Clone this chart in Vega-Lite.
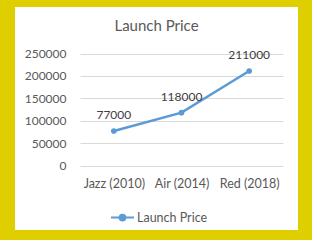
{
  "$schema": "https://vega.github.io/schema/vega-lite/v6.json",
  "width": 283,
  "height": 223,
  "autosize": {"type": "none"},
  "padding": {"left": 15, "top": 7, "right": 14, "bottom": 10},
  "background": "#E0CF00",
  "title": {
    "text": "Launch Price",
    "font": "Lato",
    "fontSize": 15,
    "fontWeight": "normal",
    "color": "#595959",
    "anchor": "middle",
    "baseline": "alphabetic",
    "offset": -39
  },
  "data": {
    "values": [
      {"model": "Jazz (2010)", "price": 77000, "series": "Launch Price"},
      {"model": "Air (2014)", "price": 118000, "series": "Launch Price"},
      {"model": "Red (2018)", "price": 211000, "series": "Launch Price"}
    ]
  },
  "encoding": {
    "x": {
      "field": "model",
      "type": "ordinal",
      "sort": null,
      "scale": {"type": "point", "padding": 0.5, "range": [65, 268]},
      "axis": {
        "title": null,
        "orient": "bottom",
        "offset": -64.5,
        "domain": false,
        "ticks": false,
        "labelAngle": 0,
        "labelPadding": 12,
        "labelFont": "Lato",
        "labelFontSize": 12.5,
        "labelColor": "#595959"
      }
    },
    "y": {
      "field": "price",
      "type": "quantitative",
      "scale": {"domain": [0, 250000], "nice": false, "range": [158.5, 46.5]},
      "axis": {
        "title": null,
        "orient": "left",
        "offset": -65,
        "values": [0, 50000, 100000, 150000, 200000, 250000],
        "format": "d",
        "domain": false,
        "ticks": false,
        "labelPadding": 14,
        "labelFont": "Lato",
        "labelFontSize": 12,
        "labelColor": "#595959",
        "grid": true,
        "gridColor": "#D9D9D9",
        "gridWidth": 1
      }
    }
  },
  "layer": [
    {
      "mark": {"type": "line", "strokeWidth": 2.5, "point": {"filled": true, "size": 32}},
      "encoding": {
        "color": {
          "field": "series",
          "type": "nominal",
          "scale": {"range": ["#5B9BD5"]},
          "legend": {
            "title": null,
            "orient": "none",
            "legendX": 95,
            "legendY": 198,
            "symbolType": "M-1,0L1,0M0.25,0A0.25,0.25 0 1,1 -0.25,0A0.25,0.25 0 1,1 0.25,0",
            "symbolSize": 529,
            "symbolStrokeWidth": 2,
            "labelFont": "Lato",
            "labelFontSize": 12.5,
            "labelColor": "#595959",
            "labelOffset": 2
          }
        }
      }
    },
    {
      "mark": {"type": "text", "dy": -16, "font": "Lato", "fontSize": 12, "color": "#404040"},
      "encoding": {"text": {"field": "price", "type": "quantitative", "format": "d"}}
    }
  ],
  "config": {
    "view": {"fill": "white", "stroke": null}
  }
}
